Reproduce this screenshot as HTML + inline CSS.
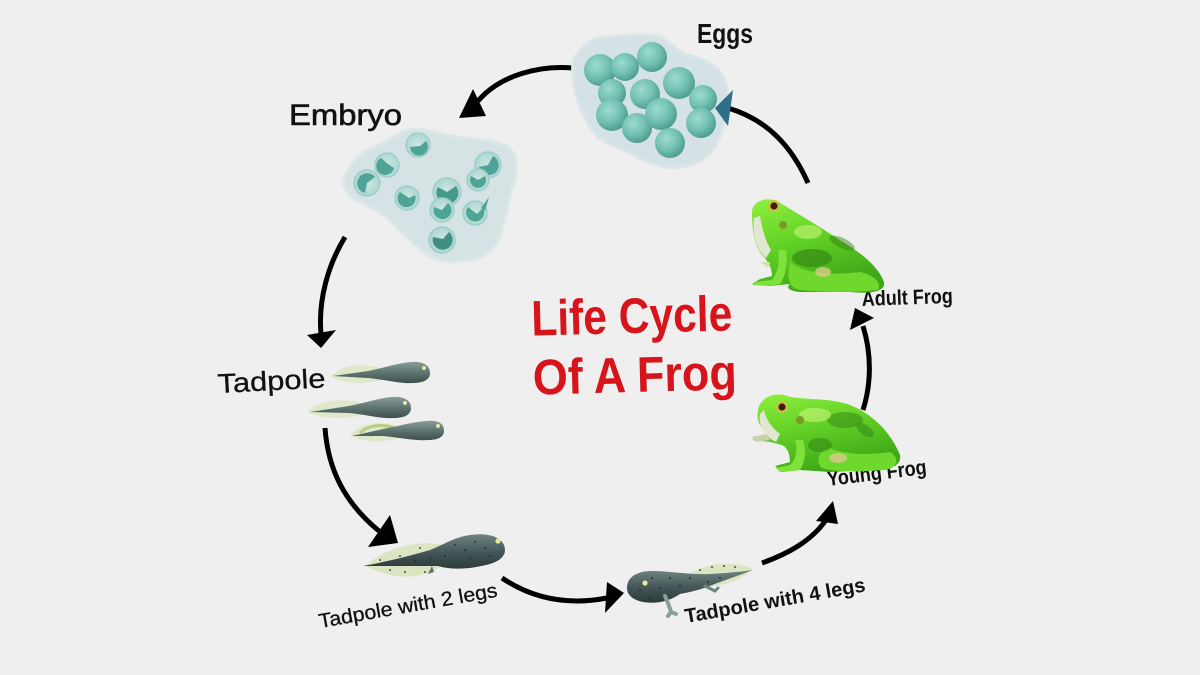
<!DOCTYPE html>
<html>
<head>
<meta charset="utf-8">
<style>
  html, body { margin:0; padding:0; background:#efefef; }
  svg { display:block; }
  text { font-family: "Liberation Sans", "DejaVu Sans", sans-serif; }
</style>
</head>
<body>
<svg width="1200" height="675" viewBox="0 0 1200 675" xmlns="http://www.w3.org/2000/svg">
  <defs>
    <radialGradient id="egg" cx="38%" cy="35%" r="65%">
      <stop offset="0" stop-color="#9cdccf"/>
      <stop offset="0.6" stop-color="#72c0b2"/>
      <stop offset="1" stop-color="#4f9f92"/>
    </radialGradient>
    <radialGradient id="cell" cx="50%" cy="50%" r="55%">
      <stop offset="0" stop-color="#cfe8e4"/>
      <stop offset="1" stop-color="#a9d4cd"/>
    </radialGradient>
    <linearGradient id="frogG" x1="0" y1="0" x2="0.4" y2="1">
      <stop offset="0" stop-color="#8ff03e"/>
      <stop offset="0.5" stop-color="#62d126"/>
      <stop offset="1" stop-color="#3fa817"/>
    </linearGradient>
    <linearGradient id="tadG" x1="0" y1="0" x2="0" y2="1">
      <stop offset="0" stop-color="#8a9f9a"/>
      <stop offset="0.5" stop-color="#5f7571"/>
      <stop offset="1" stop-color="#3d4f4c"/>
    </linearGradient>
    <linearGradient id="tadD" x1="0" y1="0" x2="0" y2="1">
      <stop offset="0" stop-color="#6f8580"/>
      <stop offset="0.5" stop-color="#46585a"/>
      <stop offset="1" stop-color="#2c3a3a"/>
    </linearGradient>
  </defs>

  <rect width="1200" height="675" fill="#efefef"/>

  <!-- ============ ARROWS ============ -->
  <g fill="none" stroke="#000" stroke-width="5" stroke-linecap="butt">
    <!-- eggs -> embryo -->
    <path d="M573,68 C540,65 500,75 478,101"/>
    <!-- embryo -> tadpole -->
    <path d="M345,237 C328,265 318,300 321,334"/>
    <!-- tadpole -> 2 legs -->
    <path d="M325,428 C328,470 345,503 379,531"/>
    <!-- 2 legs -> 4 legs -->
    <path d="M502,578 C530,597 565,606 607,598"/>
    <!-- 4 legs -> young -->
    <path d="M762,563 C790,553 812,540 826,520"/>
    <!-- young -> adult -->
    <path d="M863,410 C871,385 872,355 863,326"/>
    <!-- adult -> eggs -->
    <path d="M808,183 C792,147 768,120 728,108"/>
  </g>
  <g fill="#000">
    <polygon points="459,118 473,89 486,116"/>
    <polygon points="321,348 307,335 336,330"/>
    <polygon points="398,543 368,547 390,515"/>
    <polygon points="624,593 607,582 605,613"/>
    <polygon points="833,501 816,521 838,524"/>
    <polygon points="855,308 850,330 874,318"/>
  </g>

  <!-- ============ EGGS ============ -->
  <path d="M573,62 C578,48 590,38 605,37 C625,36 640,33 655,35 C668,38 675,50 685,54 C700,58 712,62 720,72 C728,82 729,95 727,108 C725,122 722,134 716,145 C710,155 702,162 690,165 C675,169 662,168 650,163 C638,158 630,152 618,148 C604,143 594,136 588,124 C582,112 577,102 575,90 C573,80 572,70 573,62 Z"
        fill="#d5e2e5" stroke="#dbe6e8" stroke-width="3"/>
  <!-- arrowhead seen through the jelly -->
  <polygon points="733,90 728,126 715,108" fill="#2f6f8a"/>
  <g fill="url(#egg)">
    <circle cx="600" cy="70" r="16"/>
    <circle cx="625" cy="67" r="14"/>
    <circle cx="652" cy="57" r="15"/>
    <circle cx="679" cy="83" r="16"/>
    <circle cx="612" cy="93" r="14"/>
    <circle cx="645" cy="94" r="15"/>
    <circle cx="703" cy="99" r="14"/>
    <circle cx="612" cy="115" r="16"/>
    <circle cx="637" cy="128" r="15"/>
    <circle cx="661" cy="114" r="16"/>
    <circle cx="701" cy="123" r="15"/>
    <circle cx="670" cy="143" r="15"/>
  </g>

  <!-- ============ EMBRYO ============ -->
  <path d="M343,182 C348,165 360,152 375,147 C390,140 400,131 412,129 C428,128 443,136 458,137 C475,139 495,140 508,147 C518,155 518,170 513,185 C508,200 506,220 500,237 C494,250 484,258 470,260 C455,263 440,263 428,255 C418,248 410,240 400,230 C390,220 380,212 368,206 C356,200 345,195 343,182 Z"
        fill="#d6e3e5" stroke="#dce7e8" stroke-width="3"/>
  <g>
    <g transform="translate(418,145)"><circle r="12" fill="url(#cell)" stroke="#9fcfc7" stroke-width="1.5"/><path d="M-8,2 A9,9 0 1,0 8,-4 L2,1 Z" fill="#4ea496"/></g>
    <g transform="translate(387,165)"><circle r="12" fill="url(#cell)" stroke="#9fcfc7" stroke-width="1.5"/><path d="M-6,-7 A9,9 0 1,0 7,3 L1,-1 Z" fill="#4ea496"/></g>
    <g transform="translate(367,183)"><circle r="13" fill="url(#cell)" stroke="#9fcfc7" stroke-width="1.5"/><path d="M8,-6 A10,10 0 1,0 -2,10 L0,0 Z" fill="#4ea496"/></g>
    <g transform="translate(407,198)"><circle r="12" fill="url(#cell)" stroke="#9fcfc7" stroke-width="1.5"/><path d="M-7,-6 A9,9 0 1,0 8,-3 L2,0 Z" fill="#4ea496"/></g>
    <g transform="translate(447,192)"><circle r="14" fill="url(#cell)" stroke="#9fcfc7" stroke-width="1.5"/><path d="M-9,-5 A11,11 0 1,0 9,-6 L0,0 Z" fill="#46998c"/></g>
    <g transform="translate(442,210)"><circle r="12" fill="url(#cell)" stroke="#9fcfc7" stroke-width="1.5"/><path d="M-8,-3 A9,9 0 1,0 6,-7 L0,0 Z" fill="#4ea496"/></g>
    <g transform="translate(488,165)"><circle r="13" fill="url(#cell)" stroke="#9fcfc7" stroke-width="1.5"/><path d="M-9,2 A10,10 0 1,0 5,-9 L0,0 Z" fill="#4ea496"/></g>
    <g transform="translate(478,180)"><circle r="11" fill="url(#cell)" stroke="#9fcfc7" stroke-width="1.5"/><path d="M-7,-4 A8,8 0 1,0 7,-4 L0,0 Z" fill="#4ea496"/></g>
    <g transform="translate(475,213)"><circle r="12" fill="url(#cell)" stroke="#9fcfc7" stroke-width="1.5"/><path d="M-7,-6 A9,9 0 1,0 8,-5 L2,1 Z" fill="#4ea496"/><path d="M6,-5 L14,-16 L10,-2 Z" fill="#4ea496"/></g>
    <g transform="translate(442,240)"><circle r="13" fill="url(#cell)" stroke="#9fcfc7" stroke-width="1.5"/><path d="M-9,-3 A10,10 0 1,0 7,-8 L1,-1 Z" fill="#3f8f82"/></g>
  </g>

  <!-- ============ TADPOLES ============ -->
  <g>
    <!-- tadpole 1 -->
    <g transform="translate(413,373)">
      <path d="M-25,-2 C-45,-11 -70,-10 -82,3 C-68,12 -45,12 -25,5 Z" fill="#dde6c6" opacity="0.85"/>
      <path d="M17,0 C17,-9 8,-12 -2,-11 C-15,-10 -25,-6 -45,-2 L-80,3 L-45,5 C-25,7 -12,11 0,10 C10,10 17,7 17,0 Z" fill="url(#tadG)"/>
      <circle cx="11" cy="-5" r="2" fill="#e8e89a"/>
    </g>
    <!-- tadpole 2 -->
    <g transform="translate(394,408)">
      <path d="M-25,-2 C-45,-11 -75,-10 -86,4 C-70,12 -45,12 -25,5 Z" fill="#dde6c6" opacity="0.85"/>
      <path d="M17,0 C17,-9 8,-12 -2,-11 C-15,-10 -25,-6 -45,-2 L-84,4 L-45,5 C-25,7 -12,11 0,10 C10,10 17,7 17,0 Z" fill="url(#tadG)"/>
      <circle cx="11" cy="-5" r="2" fill="#e8e89a"/>
    </g>
    <!-- tadpole 3 -->
    <g transform="translate(428,431)">
      <path d="M-25,-2 C-45,-12 -68,-10 -78,5 C-62,12 -40,12 -25,5 Z" fill="#dde6c6" opacity="0.85"/>
      <path d="M-30,-2 C-45,-8 -60,-6 -68,2" stroke="#b9cc86" stroke-width="3" fill="none"/>
      <path d="M16,0 C16,-9 8,-11 -2,-10 C-15,-9 -25,-6 -45,-2 L-76,5 L-45,5 C-25,7 -12,10 0,9 C10,9 16,6 16,0 Z" fill="url(#tadG)"/>
      <circle cx="10" cy="-5" r="2" fill="#e8e89a"/>
    </g>
  </g>

  <!-- tadpole with 2 legs -->
  <g>
    <path d="M365,566 C385,548 420,538 447,546 L440,567 C420,580 392,580 365,566 Z" fill="#d8e3bb" opacity="0.9"/>
    <path d="M505,550 C505,538 490,532 470,535 C455,537 445,544 430,550 C410,556 385,562 363,566 C390,566 420,566 438,566 C455,571 475,568 490,564 C500,561 505,556 505,550 Z" fill="url(#tadD)"/>
    <path d="M432,566 L428,574 L434,572 Z" fill="#5f7571"/>
    <circle cx="498" cy="541" r="2.6" fill="#e8e89a"/>
    <g fill="#222">
      <circle cx="475" cy="542" r="0.9"/><circle cx="485" cy="548" r="0.9"/><circle cx="465" cy="550" r="0.9"/>
      <circle cx="455" cy="545" r="0.9"/><circle cx="470" cy="558" r="0.9"/><circle cx="490" cy="556" r="0.9"/>
      <circle cx="445" cy="556" r="0.9"/><circle cx="430" cy="558" r="0.9"/><circle cx="415" cy="561" r="0.9"/>
      <circle cx="400" cy="556" r="0.9"/><circle cx="390" cy="570" r="0.9"/><circle cx="405" cy="572" r="0.9"/>
      <circle cx="420" cy="548" r="0.9"/><circle cx="380" cy="560" r="0.9"/><circle cx="425" cy="572" r="0.9"/>
    </g>
  </g>

  <!-- tadpole with 4 legs -->
  <g>
    <path d="M688,576 C705,561 735,561 753,569 C740,582 715,589 698,586 Z" fill="#d8e3bb" opacity="0.9"/>
    <path d="M627,588 C627,577 637,571 652,571 C670,571 690,575 710,574 C725,573 740,572 753,570 C740,575 725,580 712,585 C700,590 690,592 680,594 C668,602 655,604 643,602 C633,600 627,595 627,588 Z" fill="url(#tadD)"/>
    <path d="M665,596 C668,603 670,608 671,612 L676,614 M671,612 L668,616" stroke="#8a9e9a" stroke-width="4" fill="none" stroke-linecap="round"/>
    <path d="M705,586 L715,591 L718,588" stroke="#6f8580" stroke-width="3" fill="none" stroke-linecap="round"/>
    <circle cx="645" cy="583" r="2.6" fill="#e8e89a"/>
    <g fill="#222">
      <circle cx="640" cy="590" r="0.9"/><circle cx="652" cy="578" r="0.9"/><circle cx="660" cy="588" r="0.9"/>
      <circle cx="670" cy="578" r="0.9"/><circle cx="680" cy="586" r="0.9"/><circle cx="690" cy="578" r="0.9"/>
      <circle cx="700" cy="570" r="0.9"/><circle cx="712" cy="567" r="0.9"/><circle cx="724" cy="566" r="0.9"/>
      <circle cx="735" cy="567" r="0.9"/><circle cx="720" cy="578" r="0.9"/><circle cx="708" cy="582" r="0.9"/>
      <circle cx="650" cy="598" r="0.9"/>
    </g>
  </g>

  <!-- ============ LABELS (under frogs) ============ -->
  <text x="697" y="43" font-size="28" font-weight="bold" textLength="56" lengthAdjust="spacingAndGlyphs" fill="#111">Eggs</text>
  <text x="289" y="125" font-size="30" fill="#111" stroke="#111" stroke-width="0.6" textLength="113" lengthAdjust="spacingAndGlyphs">Embryo</text>
  <text x="218" y="393" font-size="27" fill="#111" stroke="#111" stroke-width="0.3" textLength="108" lengthAdjust="spacingAndGlyphs" transform="rotate(-3 218 393)">Tadpole</text>
  <text x="320" y="628" font-size="20" fill="#111" stroke="#111" stroke-width="0.3" textLength="181" lengthAdjust="spacingAndGlyphs" transform="rotate(-10 320 628)">Tadpole with 2 legs</text>
  <text x="686" y="623" font-size="20" font-weight="bold" fill="#111" textLength="183" lengthAdjust="spacingAndGlyphs" transform="rotate(-10 686 623)">Tadpole with 4 legs</text>
  <text x="828" y="486" font-size="21" font-weight="bold" fill="#111" textLength="100" lengthAdjust="spacingAndGlyphs" transform="rotate(-7 828 486)">Young Frog</text>
  <text x="862" y="306" font-size="21" font-weight="bold" fill="#111" textLength="91" lengthAdjust="spacingAndGlyphs" transform="rotate(-2 862 306)">Adult Frog</text>

  <!-- ============ ADULT FROG ============ -->
  <g>
    <path d="M752,212 C752,200 770,195 782,204 C795,212 812,222 832,235 C856,250 876,262 884,282 C886,292 870,294 850,292 L800,292 C790,291 785,288 790,284 L770,286 L752,284 L760,279 L772,276 C772,268 768,262 765,258 C756,250 752,235 752,212 Z" fill="url(#frogG)"/>
    <path d="M754,218 C752,234 756,250 766,258 L771,250 C765,240 762,228 760,216 Z" fill="#e3e6d2"/>
    <path d="M790,262 C800,272 830,276 860,272 C875,275 882,284 878,290 C850,293 820,292 800,290 C790,288 786,280 790,262 Z" fill="#6fd82c"/>
    <ellipse cx="812" cy="258" rx="20" ry="9" fill="#2e7a12" opacity="0.55"/>
    <ellipse cx="842" cy="243" rx="14" ry="5" fill="#2e7a12" opacity="0.45" transform="rotate(25 842 243)"/>
    <ellipse cx="808" cy="232" rx="14" ry="7" fill="#c8f57a" opacity="0.6"/>
    <ellipse cx="823" cy="272" rx="8" ry="5" fill="#d9c98a" opacity="0.8"/>
    <path d="M778,250 C780,262 778,272 772,280 L756,282 L752,285 L768,286 L780,284 C786,275 788,262 786,250 Z" fill="#7ee23a"/>
    <path d="M760,262 L770,262 L768,268 Z" fill="#cde8a8"/>
    <circle cx="774" cy="206" r="6" fill="#c9c23a"/>
    <circle cx="774" cy="206" r="3.6" fill="#3a2010"/>
    <circle cx="783" cy="225" r="4" fill="#7a9a25"/>
  </g>

  <!-- ============ YOUNG FROG ============ -->
  <g>
    <path d="M758,410 C760,398 775,390 790,397 C810,400 830,398 850,405 C875,415 892,435 900,455 C902,466 890,470 870,470 L830,472 L800,470 L782,472 L775,466 L790,462 C790,455 788,448 782,445 L770,442 L752,440 L768,433 C760,428 756,420 758,410 Z" fill="url(#frogG)"/>
    <path d="M760,414 C758,425 764,436 776,442 L780,434 C772,428 766,420 764,410 Z" fill="#e3e6d2"/>
    <path d="M752,437 L766,434 L770,440 L756,442 Z" fill="#c8d2a8"/>
    <path d="M830,448 C845,455 870,455 890,452 C900,458 898,468 885,470 C860,472 835,472 822,468 C815,462 818,450 830,448 Z" fill="#6fd82c"/>
    <ellipse cx="845" cy="420" rx="18" ry="8" fill="#2e7a12" opacity="0.45"/>
    <ellipse cx="865" cy="430" rx="10" ry="5" fill="#2e7a12" opacity="0.45" transform="rotate(35 865 430)"/>
    <ellipse cx="815" cy="415" rx="16" ry="7" fill="#c8f57a" opacity="0.6"/>
    <ellipse cx="820" cy="445" rx="12" ry="7" fill="#2e7a12" opacity="0.45"/>
    <ellipse cx="838" cy="458" rx="9" ry="5" fill="#d9c98a" opacity="0.8"/>
    <path d="M795,440 C798,450 796,460 790,465 L776,468 L780,472 L800,470 C806,460 806,450 803,440 Z" fill="#7ee23a"/>
    <circle cx="782" cy="407" r="6" fill="#c9c23a"/>
    <circle cx="782" cy="407" r="3.6" fill="#3a2010"/>
    <circle cx="800" cy="420" r="4" fill="#7a9a25"/>
  </g>

  <!-- ============ TITLE ============ -->
  <g transform="rotate(-1.5 633 345)" fill="#d7141b" font-weight="bold">
    <text x="532" y="333" font-size="50" textLength="201" lengthAdjust="spacingAndGlyphs">Life Cycle</text>
    <text x="532" y="392" font-size="50" textLength="204" lengthAdjust="spacingAndGlyphs">Of A Frog</text>
  </g>
</svg>
</body>
</html>
